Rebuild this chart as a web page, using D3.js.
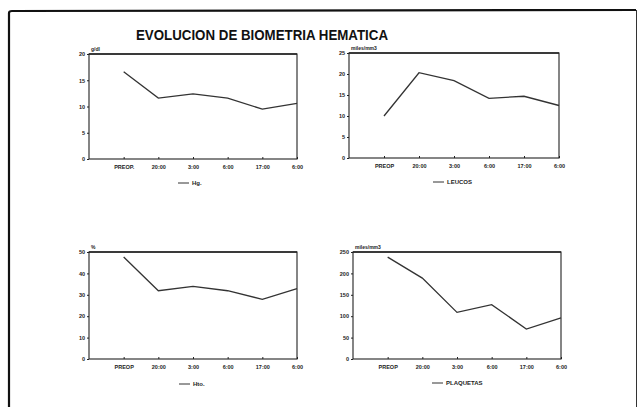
<!DOCTYPE html>
<html><head><meta charset="utf-8">
<script src="https://cdn.jsdelivr.net/npm/d3@7"></script>
<style>body{margin:0;background:#fff}svg{display:block}</style>
</head><body>
<script>
const categories = ["PREOP.", "20:00", "3:00", "6:00", "17:00", "6:00"];
const categoriesAlt = ["PREOP", "20:00", "3:00", "6:00", "17:00", "6:00"];
const hbValues = [16.6, 11.6, 12.4, 11.6, 9.5, 10.6];
const leucosValues = [10.0, 20.3, 18.4, 14.2, 14.7, 12.5];
const htoValues = [47.7, 31.9, 33.9, 31.9, 27.9, 32.9];
const plaqValues = [238, 189, 109, 127, 70, 96];
const hbTicks = [0, 5, 10, 15, 20];
const leucosTicks = [0, 5, 10, 15, 20, 25];
const htoTicks = [0, 10, 20, 30, 40, 50];
const plaqTicks = [0, 50, 100, 150, 200, 250];

const W = 638, H = 407;
const svg = d3.select("body").append("svg").attr("width", W).attr("height", H);
svg.append("rect").attr("width", W).attr("height", H).attr("fill", "#fff");

// outer frame
svg.append("path").attr("d", "M9,407 L9,13 Q9,11 12,11 L636,10").attr("fill", "none").attr("stroke", "#111").attr("stroke-width", 2.2);
svg.append("line").attr("x1", 636.5).attr("x2", 636.5).attr("y1", 10).attr("y2", 407).attr("stroke", "#333").attr("stroke-width", 1);

svg.append("text").attr("x", 262).attr("y", 40).attr("text-anchor", "middle")
  .attr("font-family", "Liberation Sans, Arial, sans-serif").attr("font-weight", "bold")
  .attr("font-size", 14).attr("textLength", 252).attr("lengthAdjust", "spacingAndGlyphs")
  .attr("fill", "#111").text("EVOLUCION DE BIOMETRIA HEMATICA");

const panels = [
  {l: 89, t: 54, r: 297, b: 159, ticks: hbTicks, values: hbValues, cats: categories, unit: "g/dl", legend: "Hg.", lx: 178, ly: 183},
  {l: 349, t: 53, r: 559, b: 158, ticks: leucosTicks, values: leucosValues, cats: categoriesAlt, unit: "miles/mm3", legend: "LEUCOS", lx: 433, ly: 182},
  {l: 89, t: 252, r: 297, b: 359, ticks: htoTicks, values: htoValues, cats: categoriesAlt, unit: "%", legend: "Hto.", lx: 179, ly: 384},
  {l: 353, t: 252, r: 561, b: 359, ticks: plaqTicks, values: plaqValues, cats: categoriesAlt, unit: "miles/mm3", legend: "PLAQUETAS", lx: 432, ly: 383}
];

const font = "Liberation Sans, Arial, sans-serif";
panels.forEach(p => {
  const g = svg.append("g");
  const x = d3.scaleLinear().domain([0, p.cats.length]).range([p.l, p.r]);
  const y = d3.scaleLinear().domain([0, d3.max(p.ticks)]).range([p.b, p.t]);
  // frame
  g.append("rect").attr("x", p.l).attr("y", p.t).attr("width", p.r - p.l).attr("height", p.b - p.t)
    .attr("fill", "none").attr("stroke", "#222").attr("stroke-width", 1.1);
  g.append("line").attr("x1", p.l).attr("x2", p.r).attr("y1", p.t).attr("y2", p.t).attr("stroke", "#222").attr("stroke-width", 1.6);
  // y axis
  const ya = d3.axisLeft(y).tickValues(p.ticks).tickSize(2).tickPadding(2).tickFormat(d3.format("d"));
  const yg = g.append("g").attr("transform", `translate(${p.l},0)`).call(ya);
  // x axis
  const xa = d3.axisBottom(x).tickValues(d3.range(1, p.cats.length + 1)).tickSize(-2).tickPadding(6)
    .tickFormat((d) => p.cats[d - 1]);
  const xg = g.append("g").attr("transform", `translate(0,${p.b})`).call(xa);
  [yg, xg].forEach(a => {
    a.select(".domain").remove();
    a.selectAll("line").attr("stroke", "#222");
    a.selectAll("text").attr("font-family", font).attr("font-weight", "bold").attr("font-size", 5.5).attr("fill", "#222");
  });
  // unit
  g.append("text").attr("x", p.l + 2).attr("y", p.t - 3).attr("font-family", font).attr("font-weight", "bold")
    .attr("font-size", 5).attr("fill", "#222").text(p.unit);
  // line
  const line = d3.line().x((d, i) => x(i + 1)).y(d => y(d));
  g.append("path").datum(p.values).attr("d", line).attr("fill", "none").attr("stroke", "#333").attr("stroke-width", 1.3);
  // legend
  g.append("line").attr("x1", p.lx).attr("x2", p.lx + 11).attr("y1", p.ly).attr("y2", p.ly).attr("stroke", "#333").attr("stroke-width", 1);
  g.append("text").attr("x", p.lx + 14).attr("y", p.ly + 2).attr("font-family", font).attr("font-weight", "bold")
    .attr("font-size", 6).attr("fill", "#222").text(p.legend);
});
</script>
</body></html>
